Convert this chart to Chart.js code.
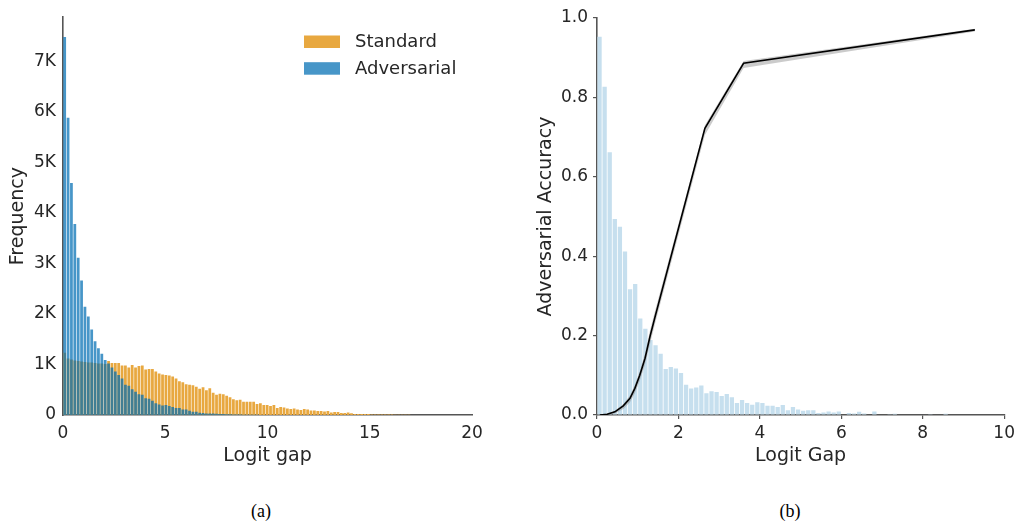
<!DOCTYPE html>
<html><head><meta charset="utf-8">
<script src="https://cdn.jsdelivr.net/npm/chart.js@4/dist/chart.umd.min.js"></script>
<style>
html,body{margin:0;padding:0;background:#fff;width:1019px;height:523px;overflow:hidden;}
#wrapA{position:absolute;left:0;top:0;width:500px;height:480px;}
#wrapB{position:absolute;left:500px;top:0;width:519px;height:480px;}
.cap{position:absolute;top:501px;line-height:20px;font-family:'Liberation Serif','Times New Roman',serif;font-size:18px;color:#000;transform:translateX(-50%);white-space:nowrap;}
</style></head><body>
<div id="wrapA"><canvas id="a" width="500" height="480"></canvas></div>
<div id="wrapB"><canvas id="b" width="519" height="480"></canvas></div>
<div class="cap" style="left:261px">(a)</div>
<div class="cap" style="left:790px">(b)</div>
<script>
// ---------- Panel (a): histogram of logit gap ----------
const binWidthA = 0.165;
const standardCounts = [
  1230,1120,1100,1080,1070,1060,1050,1040,1040,1030,1020,1020,1010,1070,1030,1030,1030,980,980,940,
  990,940,970,980,900,910,910,860,820,800,
  790,780,760,720,670,650,610,600,590,560,520,550,490,530,440,400,420,410,380,350,310,290,300,260,260,260,260,220,230,200,200,
  180,200,140,160,150,130,120,130,110,100,120,110,90,90,80,80,70,80,50,60,60,40,40,50,35,20,20,20,20,20,10,10,10,10,10,8,8,6,6,5,4,3
];
const adversarialCounts = [
  7480,5880,4590,3780,3110,2660,2140,1950,1690,1460,1320,1210,1090,1020,940,860,790,720,600,580,
  510,460,410,400,330,320,280,230,210,190,200,180,160,140,140,110,110,85,65,65,
  46,40,30,30,30,25,20,20,15,15,10,10,8,6,5,4,3,3,2,2,1
];
const seriesNamesA = ['Standard','Adversarial'];
const xTicksA = [0,5,10,15,20];
const yTicksA = [0,1000,2000,3000,4000,5000,6000,7000];
const yTickLabelsA = ['0','1K','2K','3K','4K','5K','6K','7K'];
const xTitleA = 'Logit gap';
const yTitleA = 'Frequency';

// ---------- Panel (b): adversarial accuracy vs logit gap ----------
const binWidthB = 0.125;
const gapHistogram = [
  0.953,0.827,0.662,0.494,0.474,0.412,0.317,0.330,0.243,0.217,0.189,0.176,0.154,0.116,0.121,0.117,0.106,0.076,
  0.067,0.069,0.074,0.055,0.060,0.058,0.048,0.053,0.045,0.030,0.038,0.030,0.026,0.032,0.030,0.023,0.023,0.020,
  0.025,0.012,0.020,0.014,0.011,0.012,0.012,0.005,0.006,0.009,0.006,0.009,0.000,0.005,0.004,0.008,0.004,0.000,
  0.009,0,0,0.002,0.003,0,0,0,0,0,0,0.002,0,0,0.003
];
const accGap   = [0.07, 0.25, 0.44, 0.645, 0.81, 0.93, 1.05, 1.18, 1.30, 1.42, 2.65, 3.60, 9.28];
const accMean  = [0.000,0.002,0.008,0.023,0.042,0.067,0.100,0.143,0.197,0.245,0.722,0.886,0.970];
const accLower = [0.000,0.000,0.004,0.015,0.032,0.055,0.086,0.127,0.178,0.228,0.705,0.874,0.966];
const accUpper = [0.000,0.004,0.011,0.028,0.049,0.076,0.110,0.155,0.212,0.260,0.730,0.892,0.973];
const xTicksB = [0,2,4,6,8,10];
const yTicksB = [0,0.2,0.4,0.6,0.8,1.0];
const xTitleB = 'Logit Gap';
const yTitleB = 'Adversarial Accuracy';

// ---------- styling ----------
const FONT = "'DejaVu Sans', sans-serif";
const TXT = '#262626';
const SPINE = '#555555';
const ORANGE = '#e8a840';
const BLUE = 'rgba(0,109,179,0.72)';
const LIGHTBLUE = '#c6dfee';

const manualLegend = {
  id: 'manualLegend',
  afterDraw(chart, args, o) {
    if (!o || !o.display) return;
    const ctx = chart.ctx;
    ctx.save();
    ctx.font = o.fontSize + 'px ' + FONT;
    ctx.textBaseline = 'middle';
    ctx.textAlign = 'left';
    chart.data.datasets.forEach((ds, k) => {
      const y = o.y + k * o.step;
      ctx.fillStyle = ds.backgroundColor;
      ctx.fillRect(o.x, y, o.boxW, o.boxH);
      ctx.fillStyle = TXT;
      ctx.fillText(ds.label, o.textX, y + o.boxH / 2 + 1);
    });
    ctx.restore();
  }
};

function fixedTicks(list) {
  return (s) => { s.ticks = list.map(v => ({ value: v })); };
}

// Panel (a)
new Chart(document.getElementById('a'), {
  type: 'bar',
  plugins: [manualLegend],
  data: {
    datasets: [
      { label: seriesNamesA[0], data: standardCounts.map((v, i) => ({ x: (i + 0.5) * binWidthA, y: v })),
        backgroundColor: ORANGE, borderWidth: 0, grouped: false, order: 1,
        barPercentage: 0.82, categoryPercentage: 1 },
      { label: seriesNamesA[1], data: adversarialCounts.map((v, i) => ({ x: (i + 0.5) * binWidthA, y: v })),
        backgroundColor: BLUE, borderWidth: 0, grouped: false, order: 0,
        barPercentage: 0.82, categoryPercentage: 1 }
    ]
  },
  options: {
    responsive: false, animation: false, events: [],
    layout: { padding: { top: 17, right: 28, left: 0, bottom: 0 } },
    plugins: {
      legend: { display: false }, tooltip: { enabled: false },
      manualLegend: { display: true, x: 304, y: 35.5, step: 26.7, boxW: 36, boxH: 12.5, textX: 355, fontSize: 18 }
    },
    scales: {
      x: {
        type: 'linear', min: 0, max: 20, offset: false,
        afterBuildTicks: fixedTicks(xTicksA),
        afterFit: (s) => { s.height = 65; },
        grid: { display: false, drawTicks: false, offset: false },
        border: { display: true, color: SPINE, width: 1.6 },
        ticks: { autoSkip: false, maxRotation: 0, padding: 8, color: TXT, font: { family: FONT, size: 17 },
                 callback: (v) => String(v) },
        title: { display: true, text: xTitleA, color: TXT, font: { family: FONT, size: 19 }, padding: { top: 0, bottom: 13 } }
      },
      y: {
        type: 'linear', min: 0, max: 7870,
        afterBuildTicks: fixedTicks(yTicksA),
        afterFit: (s) => { s.width = 63; },
        grid: { display: false, drawTicks: false },
        border: { display: true, color: SPINE, width: 1.6 },
        ticks: { autoSkip: false, padding: 7, color: TXT, font: { family: FONT, size: 17 },
                 callback: (v) => yTickLabelsA[yTicksA.indexOf(v)] },
        title: { display: true, text: yTitleA, color: TXT, font: { family: FONT, size: 19 }, padding: { top: 7, bottom: 0 } }
      }
    }
  }
});

// Panel (b)
new Chart(document.getElementById('b'), {
  type: 'bar',
  data: {
    datasets: [
      { type: 'line', label: 'mean', data: accGap.map((g, i) => ({ x: g, y: accMean[i] })),
        borderColor: '#000', borderWidth: 1.6, pointRadius: 0, tension: 0, fill: false, order: 0 },
      { type: 'line', label: 'lower', data: accGap.map((g, i) => ({ x: g, y: accLower[i] })),
        borderWidth: 0, borderColor: 'rgba(0,0,0,0)', pointRadius: 0, tension: 0, fill: false, order: 1 },
      { type: 'line', label: 'upper', data: accGap.map((g, i) => ({ x: g, y: accUpper[i] })),
        borderWidth: 0, borderColor: 'rgba(0,0,0,0)', pointRadius: 0, tension: 0,
        fill: '-1', backgroundColor: 'rgba(140,140,140,0.45)', order: 1 },
      { type: 'bar', label: 'hist', data: gapHistogram.map((v, i) => ({ x: (i + 0.5) * binWidthB, y: v })),
        backgroundColor: LIGHTBLUE, borderWidth: 0, grouped: false, order: 2,
        barPercentage: 0.84, categoryPercentage: 1 }
    ]
  },
  options: {
    responsive: false, animation: false, events: [],
    layout: { padding: { top: 18, right: 14, left: 0, bottom: 0 } },
    plugins: { legend: { display: false }, tooltip: { enabled: false } },
    scales: {
      x: {
        type: 'linear', min: 0, max: 10, offset: false,
        afterBuildTicks: fixedTicks(xTicksB),
        afterFit: (s) => { s.height = 65; },
        grid: { display: true, drawOnChartArea: false, drawTicks: true, tickLength: 4, color: SPINE, lineWidth: 1.2, offset: false },
        border: { display: true, color: SPINE, width: 1.6 },
        ticks: { autoSkip: false, maxRotation: 0, padding: 4, color: TXT, font: { family: FONT, size: 17 },
                 callback: (v) => String(v) },
        title: { display: true, text: xTitleB, color: TXT, font: { family: FONT, size: 19 }, padding: { top: 0, bottom: 13 } }
      },
      y: {
        type: 'linear', min: 0, max: 1.0,
        afterBuildTicks: fixedTicks(yTicksB),
        afterFit: (s) => { s.width = 97; },
        grid: { display: true, drawOnChartArea: false, drawTicks: true, tickLength: 4, color: SPINE, lineWidth: 1.2 },
        border: { display: true, color: SPINE, width: 1.6 },
        ticks: { autoSkip: false, padding: 5, color: TXT, font: { family: FONT, size: 17 },
                 callback: (v) => v.toFixed(1) },
        title: { display: true, text: yTitleB, color: TXT, font: { family: FONT, size: 19 }, padding: { top: 35, bottom: 0 } }
      }
    }
  }
});
</script>
</body></html>
